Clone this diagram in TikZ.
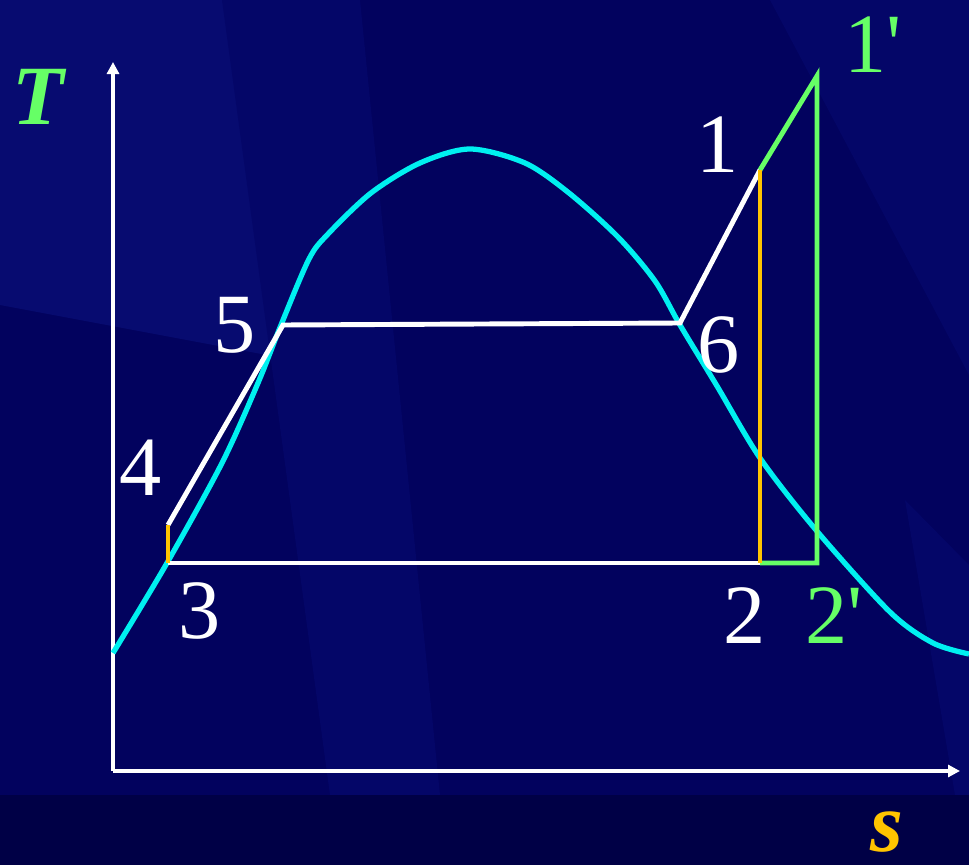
\documentclass[tikz,border=0pt]{standalone}
\usepackage{fontspec}
\setmainfont{Liberation Serif}
\usetikzlibrary{arrows.meta}

\definecolor{bgnavy}{RGB}{2,2,94}
\definecolor{bglight}{RGB}{7,11,112}
\definecolor{bgmid}{RGB}{4,6,104}
\definecolor{bgdark}{RGB}{0,0,70}
\definecolor{satcyan}{RGB}{0,240,240}
\definecolor{labgreen}{RGB}{102,255,102}
\definecolor{isoorange}{RGB}{255,196,0}

\begin{document}
\begin{tikzpicture}[
    axis/.style={draw=white, line width=1.4pt, -{Triangle[length=1.2mm,width=1.2mm]}},
    whiteline/.style={draw=white, line width=1.4pt},
    greenline/.style={draw=labgreen, line width=1.4pt},
    orangeline/.style={draw=isoorange, line width=1.4pt},
    satcurve/.style={draw=satcyan, line width=1.5pt},
    lab/.style={text=white, font=\fontsize{24}{24}\selectfont, inner sep=0pt},
    glab/.style={lab, text=labgreen}
  ]
  % background
  \fill[bgnavy] (0,0) rectangle (9.69,8.65);
  \fill[bglight] (0,8.65) -- (2.22,8.65) -- (3.2,5.0) -- (0,5.6) -- cycle;
  \fill[bgmid] (2.22,8.65) -- (3.6,8.65) -- (4.4,0.70) -- (3.3,0.70) -- cycle;
  \fill[bgmid] (7.7,8.65) -- (9.69,8.65) -- (9.69,4.9) -- cycle;
  \fill[bgmid] (9.05,3.65) -- (9.69,3.0) -- (9.69,0.70) -- (9.55,0.70) -- cycle;
  \fill[bgdark] (0,0) rectangle (9.69,0.70);
  \useasboundingbox (0,0) rectangle (9.69,8.65);

  % axes
  \coordinate (O) at (1.13,0.94);
  \coordinate (Ytop) at (1.13,8.03);
  \coordinate (Xend) at (9.60,0.94);
  \draw[axis] (O) -- (Ytop);
  \draw[axis] (O) -- (Xend);

  % saturation curve
  \draw[satcurve] plot[smooth, tension=0.5] coordinates {
    (1.13,2.12) (1.67,3.02) (2.22,4.02) (2.58,4.82) (2.81,5.40)
    (3.09,6.06) (3.28,6.31) (3.71,6.72) (4.20,7.02) (4.70,7.16)
    (5.25,7.02) (5.69,6.72) (6.18,6.28) (6.55,5.84) (6.80,5.40)
    (7.17,4.79) (7.60,4.07) (8.16,3.35) (8.90,2.53) (9.33,2.22) (9.69,2.11)};

  % cycle points
  \coordinate (P3) at (1.68,3.02);
  \coordinate (P4) at (1.68,3.40);
  \coordinate (P5) at (2.83,5.40);
  \coordinate (P6) at (6.80,5.42);
  \coordinate (P1) at (7.60,6.95);
  \coordinate (P1p) at (8.17,7.89);
  \coordinate (P2) at (7.60,3.02);
  \coordinate (P2p) at (8.17,3.02);

  \draw[whiteline] (P4) -- (P5) -- (P6) -- (P1);
  \draw[whiteline] (P3) -- (P2);
  \draw[orangeline] (P3) -- (P4);
  \draw[greenline] (P1) -- (P1p) -- (P2p) -- (P2);
  \draw[orangeline] (P1) -- (P2);

  % labels
  \node[lab, text=labgreen, font=\fontsize{24}{24}\selectfont\bfseries\itshape] (T) at (0.38,7.68) {T};
  \node[lab, text=isoorange, font=\fontsize{24}{24}\selectfont\bfseries\itshape] (S) at (8.87,0.33) {s};
  \node[glab] (L1p) at (8.73,8.20) {1\textquotesingle};
  \node[lab] (L1) at (7.18,7.20) {1};
  \node[lab] (L5) at (2.35,5.40) {5};
  \node[lab] (L6) at (7.19,5.20) {6};
  \node[lab] (L4) at (1.41,3.97) {4};
  \node[lab] (L3) at (2.00,2.54) {3};
  \node[lab] (L2) at (7.45,2.49) {2};
  \node[glab] (L2p) at (8.34,2.49) {2\textquotesingle};
\end{tikzpicture}
\end{document}
